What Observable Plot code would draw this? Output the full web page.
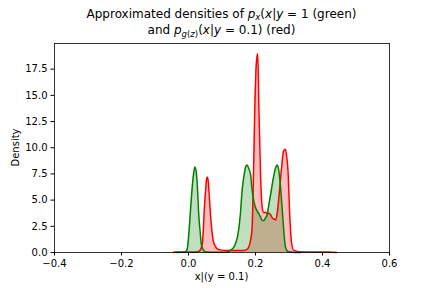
<!DOCTYPE html>
<html><head><meta charset="utf-8">
<script src="https://cdn.jsdelivr.net/npm/d3@7"></script>
<script src="https://cdn.jsdelivr.net/npm/@observablehq/plot@0.6"></script>
<style>body{margin:0;background:#fff} svg{display:block}</style>
</head><body><div id="chart"></div>
<script>
// green: p_x(x|y=1)
const greenX = [-0.035,-0.01,-0.004,0.001,0.005,0.008,0.014,0.019,0.022,0.026,0.031,0.035,0.038,0.042,0.046,0.055,0.08,0.10,0.115,0.125,0.135,0.142,0.148,0.155,0.16,0.166,0.171,0.175,0.18,0.185,0.19,0.195,0.2,0.21,0.215,0.22,0.225,0.23,0.235,0.24,0.245,0.25,0.255,0.26,0.265,0.268,0.272,0.277,0.283,0.288,0.292,0.297,0.31,0.335];
const greenY = [0.0,0.05,0.3,1.8,3.6,4.95,7.2,8.15,7.9,6.6,3.4,1.9,0.85,0.4,0.15,0.05,0.02,0.02,0.05,0.2,0.5,1.0,1.8,3.7,5.9,7.4,8.2,8.35,8.0,7.5,5.9,4.9,4.3,3.7,3.4,3.05,3.05,3.3,3.6,4.6,5.5,6.5,7.4,8.1,8.35,8.1,7.2,5.3,2.7,0.8,0.3,0.1,0.03,0.0];
// red: p_g(z)(x|y=0.1)
const redX = [-0.045,-0.04,-0.02,0.0,0.02,0.03,0.036,0.041,0.044,0.046,0.051,0.054,0.056,0.058,0.061,0.066,0.07,0.074,0.08,0.086,0.095,0.11,0.13,0.15,0.165,0.175,0.182,0.186,0.19,0.194,0.198,0.202,0.206,0.208,0.21,0.215,0.22,0.225,0.23,0.235,0.24,0.245,0.25,0.255,0.26,0.265,0.27,0.277,0.284,0.289,0.293,0.297,0.302,0.307,0.314,0.33,0.38,0.42,0.442];
const redY = [0.0,0.05,0.05,0.05,0.05,0.1,0.3,0.8,2.0,3.4,5.9,7.0,7.2,7.0,5.9,3.4,2.0,1.1,0.6,0.35,0.25,0.2,0.2,0.2,0.2,0.3,0.7,1.3,2.4,7.5,13.8,17.8,18.98,17.5,13.8,7.5,4.3,3.8,3.85,3.7,3.75,3.6,3.3,3.2,3.1,3.8,5.3,7.8,9.7,9.85,9.2,7.8,3.7,1.1,0.2,0.08,0.05,0.05,0.0];
const xTicks = [-0.4,-0.2,0.0,0.2,0.4,0.6];
const yTicks = [0,2.5,5,7.5,10,12.5,15,17.5];

const green = greenX.map((x,i)=>({x, y:greenY[i]}));
const red = redX.map((x,i)=>({x, y:redY[i]}));
const fmt = d3.format(".1f");
const curve = "monotone-x";

const chart = Plot.plot({
  width:432, height:288,
  marginLeft:54, marginRight:43, marginTop:43, marginBottom:36,
  style:{fontFamily:"DejaVu Sans", fontSize:"10px", color:"black", background:"white"},
  x:{domain:[-0.4,0.6]},
  y:{domain:[0,19.95]},
  marks:[
    Plot.areaY(red,{x:"x",y1:0,y2:"y",fill:"red",fillOpacity:0.25,curve}),
    Plot.areaY(green,{x:"x",y1:0,y2:"y",fill:"green",fillOpacity:0.25,curve}),
    Plot.lineY(red,{x:"x",y:"y",stroke:"red",strokeWidth:1.5,curve}),
    Plot.lineY(green,{x:"x",y:"y",stroke:"green",strokeWidth:1.5,curve}),
    Plot.axisX({ticks:xTicks,tickFormat:fmt,tickSize:3.5,tickPadding:3.5,label:null,fontSize:10}),
    Plot.axisY({ticks:yTicks,tickFormat:fmt,tickSize:3.5,tickPadding:3.5,label:null,fontSize:10}),
    Plot.frame({stroke:"black",strokeWidth:0.8})
  ]
});
document.getElementById("chart").appendChild(chart);

const svg = d3.select(chart);
const cx = 221.5;
function addTitle(y, parts){
  const t = svg.append("text").attr("x",cx).attr("y",y).attr("text-anchor","middle")
    .attr("font-family","DejaVu Sans").attr("font-size",12).attr("fill","black");
  for (const p of parts){
    const s = t.append("tspan").text(p.t);
    if (p.i) s.attr("font-style","italic");
    if (p.fs) s.attr("font-size",p.fs);
    if (p.dy) s.attr("dy",p.dy);
  }
}
addTitle(17.5,[
  {t:"Approximated densities of "},
  {t:"p",i:1},{t:"x",i:1,fs:8.5,dy:2.5},
  {t:"(",dy:-2.5},{t:"x",i:1},{t:"|"},{t:"y",i:1},{t:" = 1 (green)"}
]);
addTitle(34,[
  {t:"and "},
  {t:"p",i:1},{t:"g",i:1,fs:8.5,dy:2.5},{t:"(",fs:8.5},{t:"z",i:1,fs:8.5},{t:")",fs:8.5},
  {t:"(",dy:-2.5},{t:"x",i:1},{t:"|"},{t:"y",i:1},{t:" = 0.1) (red)"}
]);
svg.append("text").attr("x",cx).attr("y",280).attr("text-anchor","middle")
  .attr("font-family","DejaVu Sans").attr("font-size",10).attr("fill","black")
  .text("x|(y = 0.1)");
svg.append("text").attr("transform","translate(18.5,147.5) rotate(-90)").attr("text-anchor","middle")
  .attr("font-family","DejaVu Sans").attr("font-size",10).attr("fill","black")
  .text("Density");
</script>
</body></html>
